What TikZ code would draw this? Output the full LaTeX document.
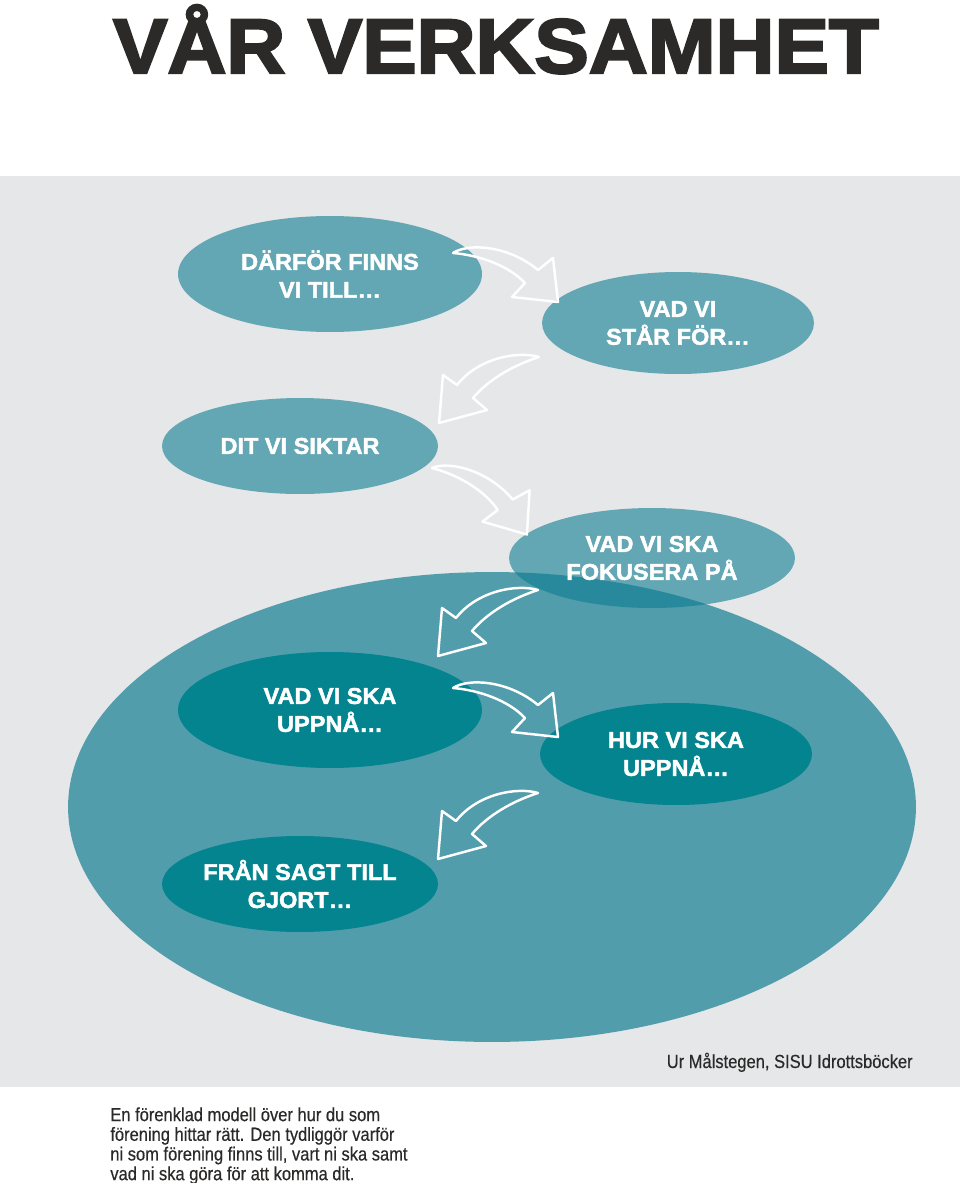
\documentclass[tikz,border=0pt]{standalone}
\usepackage{fontspec}
\setmainfont{Liberation Sans}
\newfontfamily\heavyfont[FakeBold=3,FakeStretch=1.055]{Liberation Sans Bold}
\newfontfamily\bubblefont[FakeBold=2,FakeStretch=1.03]{Liberation Sans Bold}
\newfontfamily\narrowfont[FakeBold=0.4,FakeStretch=0.87]{Liberation Sans}
\usetikzlibrary{shapes.geometric}

\definecolor{panelgray}{HTML}{E6E7E9}
\definecolor{tealbase}{HTML}{519DAB}
\definecolor{tealglass}{HTML}{0C7C91}
\definecolor{tealdark}{HTML}{04848F}
\definecolor{titleink}{HTML}{2B2A29}

\tikzset{
  blob/.style={ellipse,inner sep=0pt,text=white,align=center,
    font=\bubblefont\fontsize{13}{15.9}\selectfont},
  upper/.style={blob,fill=tealglass,fill opacity=0.6,text opacity=1},
  lower/.style={blob,fill=tealdark},
  sketch/.style={draw=white,line width=1.4pt,line join=round},
  % hand drawn bent arrows, tail at the origin
  rarrow/.pic={
    \draw[sketch] (0,0) .. controls (15,-10) and (55,-8) .. (85,17)
      -- (100,5) -- (105,49) -- (59,44) -- (72,30)
      .. controls (55,12) and (25,2) .. cycle;
  },
  larrow/.pic={
    \draw[sketch] (0,0) .. controls (-20,-6) and (-60,0) .. (-82,28)
      -- (-96,18) -- (-100,66) -- (-52,53) -- (-66,41)
      .. controls (-50,22) and (-25,8) .. cycle;
  },
}

\begin{document}
\begin{tikzpicture}[x=0.02cm,y=-0.02cm]

  \useasboundingbox (0,0) rectangle (960,1183);

  % title
  \node[anchor=base,text=titleink,inner sep=0pt,
        font=\heavyfont\fontsize{44}{44}\selectfont] (title) at (496,73) {VÅR VERKSAMHET};

  % grey panel and the big base ellipse
  \fill[panelgray] (0,176) rectangle (960,1087);
  \node[ellipse,fill=tealbase,inner sep=0pt,minimum width=16.96cm,
        minimum height=9.4cm] (base) at (492,807) {};

  % --- the seven steps ---
  \node[upper,minimum width=6.08cm,minimum height=2.32cm] (why)    at (330,274) {DÄRFÖR FINNS\\VI TILL…};
  \node[upper,minimum width=5.44cm,minimum height=2.04cm] (values) at (678,323) {VAD VI\\STÅR FÖR…};
  \node[upper,minimum width=5.52cm,minimum height=1.92cm] (vision) at (300,446) {DIT VI SIKTAR};
  \node[upper,minimum width=5.72cm,minimum height=2.00cm] (focus)  at (652,558) {VAD VI SKA\\FOKUSERA PÅ};
  \node[lower,minimum width=6.08cm,minimum height=2.32cm] (goals)  at (330,710) {VAD VI SKA\\UPPNÅ…};
  \node[lower,minimum width=5.44cm,minimum height=2.04cm] (how)    at (676,754) {HUR VI SKA\\UPPNÅ…};
  \node[lower,minimum width=5.52cm,minimum height=1.92cm] (done)   at (300,884) {FRÅN SAGT TILL\\GJORT…};

  % --- arrows between the steps ---
  \pic at (453,253) {rarrow};
  \pic at (539,357) {larrow};
  \pic[rotate=-10] at (432,468) {rarrow};
  \pic at (538,590) {larrow};
  \pic at (453,688) {rarrow};
  \pic at (538,793) {larrow};

  % source and caption
  \node[anchor=base east,inner sep=0pt,text=titleink,
        font=\narrowfont\fontsize{10.8}{11.2}\selectfont] (source) at (913,1068)
        {Ur Målstegen, SISU Idrottsböcker};
  \node[anchor=north west,inner sep=0pt,align=left,text=titleink,
        font=\narrowfont\fontsize{10.8}{11.2}\selectfont] (caption) at (110,1107)
        {En förenklad modell över hur du som\\förening hittar rätt. Den tydliggör varför\\ni som förening finns till, vart ni ska samt\\vad ni ska göra för att komma dit.};

\end{tikzpicture}
\end{document}
